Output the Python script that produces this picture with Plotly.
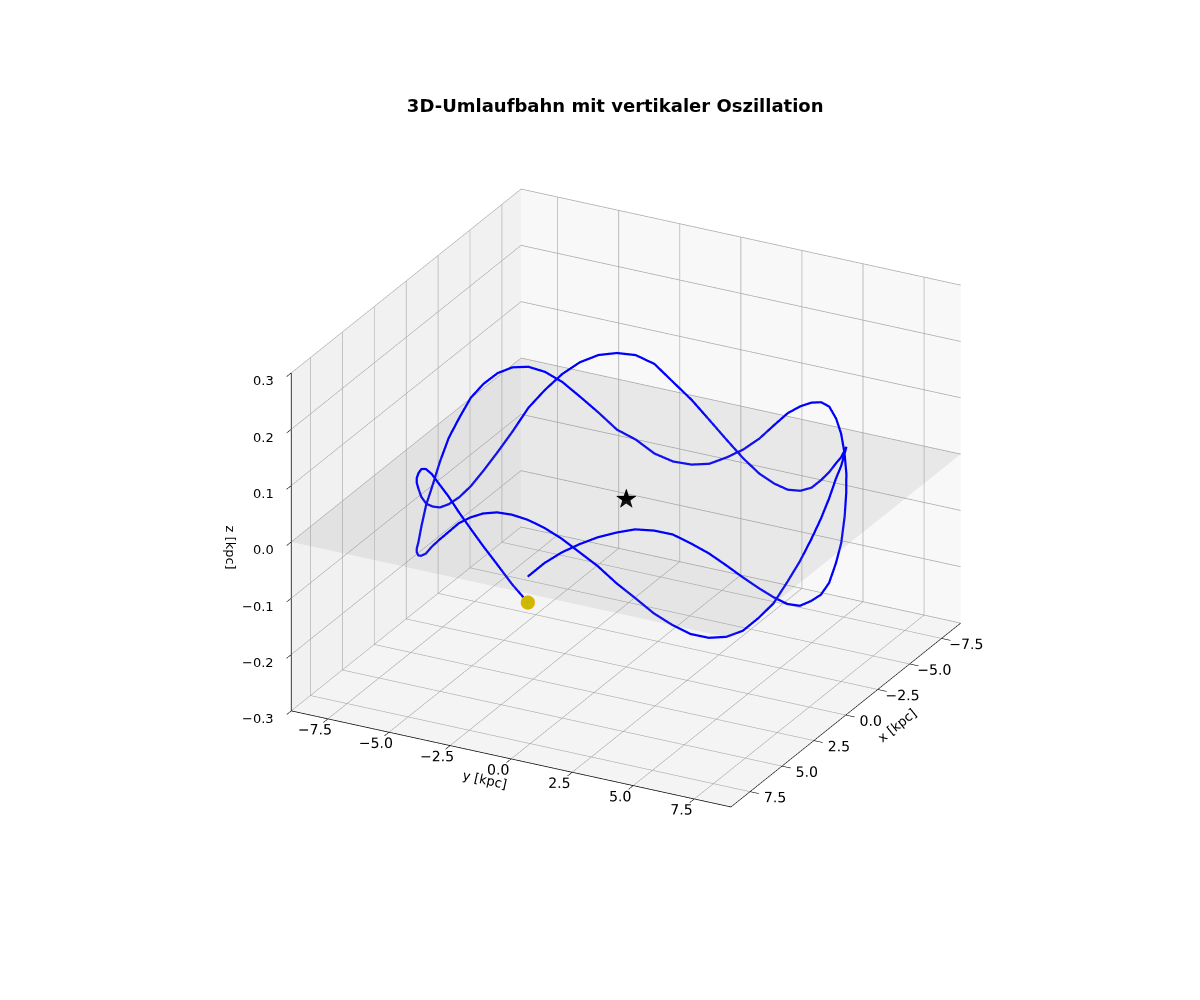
import plotly.graph_objects as go

# one lap of the orbit (kpc), the second lap follows the same track
lap_x = [7.70, 7.66, 7.56, 7.40, 7.19, 6.92, 6.61, 6.25, 5.84, 5.38, 4.89, 4.36, 3.80, 3.21, 2.60, 1.97, 1.32, 0.66,
         0.0, -0.66, -1.33, -1.98, -2.62, -3.25, -3.85, -4.42, -4.96, -5.47, -5.94, -6.37, -6.75, -7.08, -7.36, -7.58, -7.74, -7.84,
         -7.89, -7.87, -7.80, -7.67, -7.47, -7.21, -6.90, -6.53, -6.11, -5.65, -5.14, -4.59, -4.0, -3.38, -2.74, -2.07, -1.39, -0.70,
         0.0, 0.69, 1.38, 2.06, 2.72, 3.35, 3.96, 4.53, 5.07, 5.56, 6.0, 6.41, 6.76, 7.06, 7.31, 7.50, 7.62, 7.69]
lap_y = [0.0, -0.67, -1.33, -1.98, -2.62, -3.23, -3.82, -4.37, -4.90, -5.38, -5.82, -6.22, -6.58, -6.89, -7.14, -7.35, -7.49, -7.58,
         -7.62, -7.60, -7.52, -7.39, -7.20, -6.95, -6.66, -6.31, -5.91, -5.47, -4.99, -4.46, -3.90, -3.30, -2.68, -2.03, -1.36, -0.69,
         0.0, 0.69, 1.38, 2.06, 2.72, 3.37, 3.99, 4.58, 5.13, 5.65, 6.12, 6.55, 6.93, 7.25, 7.52, 7.73, 7.87, 7.95,
         7.98, 7.94, 7.84, 7.68, 7.46, 7.18, 6.85, 6.47, 6.04, 5.56, 5.04, 4.49, 3.91, 3.30, 2.66, 2.01, 1.34, 0.67]
orbit_z = [-0.0455, -0.020, 0.007, 0.030, 0.052, 0.070, 0.087, 0.096, 0.102, 0.098, 0.085, 0.064, 0.042, 0.020, -0.004, -0.032, -0.057, -0.075,
           -0.089, -0.095, -0.094, -0.085, -0.067, -0.043, -0.015, 0.020, 0.046, 0.069, 0.086, 0.096, 0.098, 0.094, 0.079, 0.049, 0.021, -0.010,
           -0.040, -0.066, -0.085, -0.094, -0.095, -0.086, -0.069, -0.043, -0.016, 0.013, 0.037, 0.063, 0.084, 0.097, 0.101, 0.093, 0.084, 0.062,
           0.039, 0.014, -0.013, -0.039, -0.067, -0.084, -0.099, -0.103, -0.099, -0.088, -0.069, -0.046, -0.018, 0.008, 0.037, 0.059, 0.079, 0.093,
           0.101, 0.103, 0.099, 0.088, 0.071, 0.050, 0.023, -0.002, -0.027, -0.052, -0.069, -0.082, -0.090, -0.097, -0.099, -0.085, -0.059, -0.038,
           -0.008, 0.023, 0.047, 0.072, 0.087, 0.097, 0.099, 0.093, 0.078, 0.055, 0.025, -0.006, -0.038, -0.056, -0.080, -0.092, -0.094, -0.088,
           -0.071, -0.050, -0.023, 0.010, 0.041, 0.064, 0.082, 0.095, 0.100, 0.092, 0.079, 0.058, 0.037, 0.016, -0.011, -0.044, -0.066, -0.088,
           -0.096, -0.095, -0.092, -0.078, -0.056, -0.031, -0.004, 0.024, 0.051, 0.073, 0.092, 0.101, 0.104, 0.098, 0.088, 0.073, 0.054, 0.030, 0.0]
orbit_x = lap_x + lap_x + lap_x[:1]
orbit_y = lap_y + lap_y + lap_y[:1]

plane_x = [-9.0, 9.0]
plane_y = [-9.0, 9.0]
plane_z = [[0.0, 0.0], [0.0, 0.0]]

ticks_xy = [-7.5, -5.0, -2.5, 0.0, 2.5, 5.0, 7.5]
ticks_z = [-0.3, -0.2, -0.1, 0.0, 0.1, 0.2, 0.3]

grid = "#a8a8a8"
font = dict(family="DejaVu Sans", size=13, color="black")


def tick_text(t):
    return str(t).replace("-", "\u2212")


def make_axis(title, ticks, rng, bg):
    return dict(title=dict(text=title, font=font), tickvals=ticks, ticktext=[tick_text(t) for t in ticks],
                range=rng, autorange=False, tickfont=font, tickangle=0, gridcolor=grid, gridwidth=1.5, showbackground=True,
                backgroundcolor=bg, showline=True, linecolor="black", linewidth=1.5, ticks="outside", ticklen=10, tickwidth=1.5,
                tickcolor="black", zeroline=False, showspikes=False)


fig = go.Figure()

fig.add_trace(go.Surface(x=plane_x, y=plane_y, z=plane_z, opacity=0.13, showscale=False,
                         colorscale=[[0, "gray"], [1, "gray"]], hoverinfo="skip"))
fig.add_trace(go.Scatter3d(x=orbit_x, y=orbit_y, z=orbit_z, mode="lines", line=dict(color="blue", width=4.5)))
fig.add_trace(go.Scatter3d(x=[orbit_x[0]], y=[orbit_y[0]], z=[orbit_z[0]], mode="markers",
                           marker=dict(color="#cdb900", size=8, line=dict(color="orange", width=2))))
fig.add_trace(go.Scatter3d(x=[0], y=[0], z=[0], mode="text", text=["\u2605"], textposition="middle center",
                           textfont=dict(color="black", size=27, family="DejaVu Sans")))

# z labels sit further from the axis than plotly puts them, so they go in as scene annotations
z_notes = [dict(x=9, y=-9, z=t, text=tick_text(t), showarrow=False, xanchor="right", xshift=-15, yshift=-8, font=font)
           for t in ticks_z]
z_notes.append(dict(x=9, y=-9, z=0, text="z [kpc]", showarrow=False, textangle=90, xshift=-61, yshift=-6, font=font))

zaxis = make_axis("", ticks_z, [-0.3, 0.3], "#f4f4f4")
zaxis["showticklabels"] = False

fig.update_layout(
    width=1200, height=1000, showlegend=False, paper_bgcolor="white",
    margin=dict(l=0, r=0, t=0, b=0),
    font=font,
    title=dict(text="<b>3D-Umlaufbahn mit vertikaler Oszillation</b>", x=0.506, xanchor="center", y=0.902, yanchor="middle",
               font=dict(family="DejaVu Sans", size=18, color="black")),
    scene=dict(
        domain=dict(x=[0.03, 1], y=[0.033, 0.987]),
        xaxis=make_axis("x [kpc]", ticks_xy, [-9, 9], "#f8f8f8"),
        yaxis=make_axis("y [kpc]", ticks_xy, [-9, 9], "#f1f1f1"),
        zaxis=zaxis,
        aspectmode="manual", aspectratio=dict(x=1.04, y=1.04, z=0.78),
        camera=dict(eye=dict(x=1.632, y=0.853, z=0.848), center=dict(x=0, y=0, z=0), projection=dict(type="orthographic")),
        annotations=z_notes,
    ),
)

fig.write_html("out.html")
